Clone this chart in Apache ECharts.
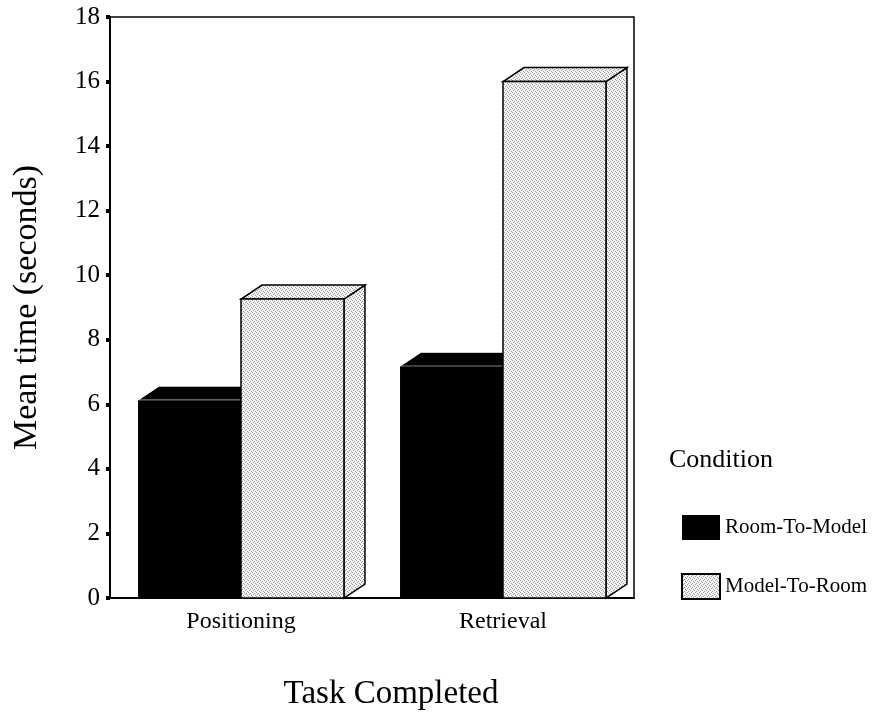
<!DOCTYPE html>
<html>
<head>
<meta charset="utf-8">
<script src="https://cdn.jsdelivr.net/npm/echarts@6/dist/echarts.min.js"></script>
<style>
html,body{margin:0;padding:0;background:#fff;}
#chart{width:878px;height:717px;}
</style>
</head>
<body>
<div id="chart"></div>
<script>
// ---- data ----
const categories = ['Positioning', 'Retrieval'];
const roomToModel = [6.13, 7.18];
const modelToRoom = [9.26, 16.0];
const seriesNames = ['Room-To-Model', 'Model-To-Room'];
const yTicks = [0, 2, 4, 6, 8, 10, 12, 14, 16, 18];

// stipple texture
function makePattern() {
  const c = document.createElement('canvas');
  c.width = 4; c.height = 4;
  const ctx = c.getContext('2d');
  ctx.fillStyle = '#f4f4f4';
  ctx.fillRect(0, 0, 4, 4);
  ctx.fillStyle = '#999999';
  [[0,0],[2,1],[1,2],[3,3]].forEach(p => ctx.fillRect(p[0], p[1], 1, 1));
  return c;
}
const pattern = { image: makePattern(), repeat: 'repeat' };

const FONT = '"Liberation Serif", "DejaVu Serif", serif';
const DX = 21, DY = 14, BARFRAC = 0.393;

function makeRender(side, fill, stroke) {
  return function (params, api) {
    const cat = api.value(0), v = api.value(1);
    const top = api.coord([cat, v]);
    const base = api.coord([cat, 0]);
    const band = api.size([1, 0])[0];
    const w = band * BARFRAC;
    const x0 = side < 0 ? top[0] - w : top[0];
    const x1 = x0 + w;
    const ty = top[1], by = base[1];
    const faceStyle = { fill: fill, stroke: stroke, lineWidth: 1.5, lineJoin: 'miter' };
    const children = [];
    if (side > 0) {
      children.push({
        type: 'polygon',
        shape: { points: [[x1, ty], [x1 + DX, ty - DY], [x1 + DX, by - DY], [x1, by]] },
        style: faceStyle
      });
    }
    children.push({
      type: 'polygon',
      shape: { points: [[x0, ty], [x0 + DX, ty - DY], [x1 + DX, ty - DY], [x1, ty]] },
      style: side < 0 ? { fill: '#000', stroke: '#fff', lineWidth: 1 } : faceStyle
    });
    children.push({
      type: 'rect',
      shape: { x: x0, y: ty, width: w, height: by - ty },
      style: side < 0 ? { fill: '#000' } : faceStyle
    });
    return { type: 'group', children: children };
  };
}

const chart = echarts.init(document.getElementById('chart'), null, { renderer: 'canvas' });
chart.setOption({
  animation: false,
  backgroundColor: '#fff',
  title: {
    text: 'Condition',
    left: 664, top: 442,
    textStyle: { fontFamily: FONT, fontSize: 26, fontWeight: 'normal', color: '#000' }
  },
  legend: {
    orient: 'vertical',
    left: 676, top: 510,
    itemWidth: 38, itemHeight: 25, itemGap: 33,
    icon: 'rect',
    textStyle: { fontFamily: FONT, fontSize: 21, color: '#000' },
    data: [
      { name: seriesNames[0], itemStyle: { color: '#000' } },
      { name: seriesNames[1], itemStyle: { color: pattern, borderColor: '#000', borderWidth: 2 } }
    ]
  },
  grid: {
    left: 110, right: 244, top: 17, bottom: 119,
    show: true, borderColor: '#000', borderWidth: 1.5, backgroundColor: 'transparent'
  },
  xAxis: {
    type: 'category',
    data: categories,
    name: 'Task Completed',
    nameLocation: 'middle',
    nameGap: 80,
    nameTextStyle: { fontFamily: FONT, fontSize: 33, color: '#000', padding: [0, 0, 0, 38] },
    axisLine: { lineStyle: { color: '#000', width: 2 } },
    axisTick: { alignWithLabel: true, length: 4, lineStyle: { width: 4, color: '#000' } },
    axisLabel: { fontFamily: FONT, fontSize: 24, color: '#000', margin: 12 },
    splitLine: { show: false }
  },
  yAxis: {
    type: 'value',
    min: yTicks[0], max: yTicks[yTicks.length - 1], interval: 2,
    name: 'Mean time (seconds)',
    nameLocation: 'middle',
    nameGap: 66,
    nameRotate: 90,
    nameTextStyle: { fontFamily: FONT, fontSize: 34, color: '#000', padding: [0, 0, 0, 0] },
    axisLine: { show: true, lineStyle: { color: '#000', width: 2 } },
    axisTick: { show: true, length: 4, lineStyle: { width: 4, color: '#000' } },
    axisLabel: { fontFamily: FONT, fontSize: 25, color: '#000', margin: 10 },
    splitLine: { show: false }
  },
  series: [
    {
      name: seriesNames[0],
      type: 'custom',
      renderItem: makeRender(-1, '#000', '#000'),
      itemStyle: { color: '#000' },
      encode: { x: 0, y: 1 },
      data: categories.map((c, i) => [i, roomToModel[i]]),
      z: 2
    },
    {
      name: seriesNames[1],
      type: 'custom',
      renderItem: makeRender(1, pattern, '#000'),
      itemStyle: { color: pattern },
      encode: { x: 0, y: 1 },
      data: categories.map((c, i) => [i, modelToRoom[i]]),
      z: 3
    }
  ]
});
</script>
</body>
</html>
